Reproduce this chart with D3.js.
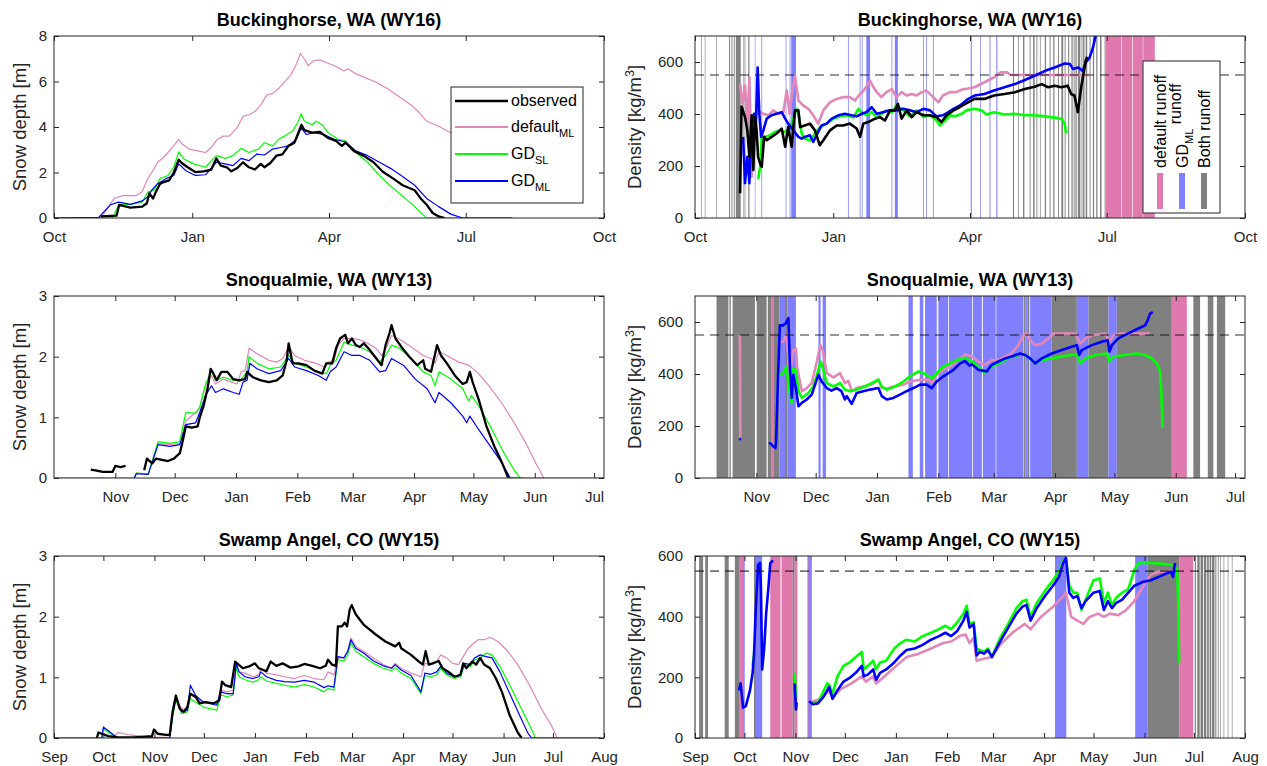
<!DOCTYPE html>
<html>
<head>
<meta charset="utf-8">
<script src="https://cdn.jsdelivr.net/npm/d3@7"></script>
<style>
body { margin: 0; background: #fff; }
svg text { font-family: "Liberation Sans", Arial, Helvetica, sans-serif; }
</style>
</head>
<body>
<svg id="fig" width="1267" height="766"></svg>
<script>
// ---- data: [days since panel start, value]; null value = gap ----
// Buckinghorse, WA (WY16), start 2015-10-01
var bhStart = "2015-10-01", bhEnd = "2016-10-01";
var bhTicks = ["2015-10-01", "2016-01-01", "2016-04-01", "2016-07-01", "2016-10-01"];
var bhDepthObs = [[31,0.07],[41.6,0.1],[43.4,0.58],[50.8,0.46],[58.7,0.5],[61.8,0.65],[63.4,1.08],[66,0.86],[68,1.18],[70.5,1.5],[73,1.58],[76.6,1.65],[79.7,2.0],[83,2.56],[85,2.42],[89,2.23],[94,2.02],[99.5,2.05],[104.7,2.13],[108,2.62],[111,2.3],[115,2.23],[118,2.05],[122,2.2],[125.8,2.45],[129.7,2.23],[133.7,2.13],[137.6,2.38],[140,2.23],[144,2.42],[148,2.74],[152,2.8],[156,3.17],[160,3.31],[163,3.82],[164.7,4.1],[166.6,3.86],[171.8,3.75],[177,3.78],[182,3.53],[187.6,3.39],[191.6,3.17],[194,3.31],[199.5,2.95],[206,2.74],[212.6,2.45],[219,2.02],[225.8,1.73],[232,1.44],[240,1.22],[244,0.86],[248,0.58],[252,0.22],[256,0.07],[260,0]];
var bhDepthDef = [[0,0],[30,0],[32,0.07],[40,0.86],[45.5,0.98],[54.7,0.98],[58.7,1.15],[61.8,1.66],[65,2.0],[69,2.45],[73,2.67],[75.8,2.88],[79.7,3.17],[83,3.46],[85.5,3.24],[90,3.03],[95.5,2.95],[100.8,2.88],[104.7,3.1],[108.7,3.46],[112.6,3.6],[116.6,3.6],[121.8,3.96],[125.8,4.47],[129.7,4.54],[133.7,4.68],[137.6,4.97],[141.6,5.4],[145.5,5.48],[149.5,5.69],[153.4,5.98],[157.4,6.27],[161.3,6.77],[164,7.23],[166.6,6.99],[169.2,6.7],[173,6.92],[177,6.95],[182.4,6.8],[187.6,6.66],[192.9,6.46],[195.5,6.56],[200.8,6.34],[207,6.17],[214,5.98],[221.8,5.69],[229.7,5.33],[237.6,4.97],[242.9,4.64],[248,4.25],[256,4.03],[264,3.75],[275,3.4],[290,3.0],[305,2.6]];
var bhDepthSL = [[0,0],[39,0],[43,0.58],[50.8,0.6],[58.7,0.7],[62.6,1.15],[66.6,1.22],[70.5,1.73],[75.8,1.87],[79.7,2.23],[83,2.91],[86.3,2.6],[92.9,2.38],[100.8,2.23],[108,2.74],[113.9,2.62],[119,2.74],[124.5,3.06],[129.7,2.88],[136,3.03],[140,3.31],[145.5,3.17],[149.5,3.46],[153.4,3.6],[158.7,3.82],[162.6,4.25],[164.5,4.58],[166.6,4.25],[171.8,4.1],[174.5,4.25],[178.4,4.1],[182.4,3.75],[189,3.46],[194,3.39],[200.8,2.88],[208.7,2.45],[216.6,1.87],[224.5,1.37],[232.4,0.94],[240,0.5],[246.8,0.07],[248,0],[305,0]];
var bhDepthML = [[0,0],[29.7,0.03],[37.6,0.58],[43,0.7],[50.8,0.6],[58.7,0.75],[62.6,0.94],[65,1.22],[69,1.51],[74.5,1.73],[79.7,1.87],[83,2.38],[87.6,2.09],[94,1.87],[100.8,1.9],[108,2.45],[113.9,2.38],[119,2.3],[124.5,2.62],[129.7,2.52],[135,2.81],[140,2.77],[145.5,3.03],[150.8,3.1],[156,3.17],[161.3,3.46],[164.5,3.96],[168,3.67],[173,3.75],[179.7,3.67],[186.3,3.46],[194,3.34],[200.8,2.95],[208.7,2.74],[216.6,2.45],[224.5,2.16],[232.4,1.8],[240,1.44],[248,0.86],[256,0.5],[264,0.17],[272,0],[305,0]];
var bhDensObs = [[30,95],[31,429],[33.3,388],[34.8,337],[36.2,235],[37.7,395],[38.8,185],[40,388],[41,337],[42,235],[43.3,210],[44.4,197],[46,312],[47.7,299],[51,312],[54.3,325],[57.7,344],[60,274],[62,350],[64.3,274],[66.5,414],[68.8,414],[70,350],[73,356],[76.5,363],[79.8,337],[83,280],[85.4,299],[89.8,337],[94.3,356],[98.7,356],[103,363],[107.6,344],[109.8,312],[112,363],[115.3,369],[119.8,382],[123,388],[126.4,375],[129.8,414],[133,414],[135,439],[137.5,382],[140.9,414],[144.2,388],[147.5,407],[152,395],[156,395],[160.8,388],[164,369],[167.5,395],[172,414],[176,426],[180.8,442],[186,458],[192.6,458],[199,471],[206,477],[212.9,484],[219.5,496],[226,505],[230.7,515],[235,503],[239.3,509],[243.8,503],[248,509],[250.3,477],[252.5,471],[254.8,407],[257,503],[260,605],[261,620]];
var bhDensDef = [[30,515],[31.7,439],[33.3,509],[34.8,363],[36.2,541],[37.7,159],[39.3,388],[41,401],[43.3,407],[45.5,401],[48.8,395],[52,414],[55.5,401],[58.8,407],[61,490],[63,401],[64.3,471],[66.5,547],[68.8,452],[72,433],[75.4,420],[78.7,395],[82,363],[85.4,414],[89.8,445],[94.3,458],[98.7,465],[103,465],[106.5,452],[109.8,477],[113,496],[116.5,528],[118.7,503],[121,484],[124,465],[127.5,484],[131,496],[134,465],[137.5,484],[141,471],[144,477],[147.5,471],[150.8,484],[154,490],[157.5,471],[162,445],[165,471],[169.7,484],[174,484],[178.6,496],[181,497],[186,503],[192.6,522],[199,541],[203.3,560],[207.8,560],[210,550],[262,550]];
var bhDensSL = [[42,149],[43.7,210],[44.4,312],[46.6,312],[50,318],[53,331],[56.6,337],[60,331],[63,344],[65.4,382],[67.7,420],[68.8,401],[71,325],[73,305],[76.5,299],[80,325],[83.2,350],[87.6,363],[92,382],[96.5,391],[101,395],[105.4,386],[108.7,420],[111,407],[114,395],[117.6,407],[121,388],[124.2,401],[127.5,414],[131,407],[134,433],[138.6,414],[143,391],[147.5,414],[152,388],[156.4,395],[160.8,375],[163,356],[166.4,375],[169.7,395],[173,391],[177.5,401],[181,415],[186,420],[190.6,414],[194,398],[199,407],[206,398],[212.5,401],[219.5,395],[226,395],[233,391],[239.3,386],[243.8,382],[246,363],[247,325]];
var bhDensML = [[32,312],[33.3,134],[34.8,235],[36.2,134],[37.7,363],[39.3,401],[40.4,337],[41.7,579],[42.8,401],[44,312],[45.5,337],[47.7,382],[51,395],[54.3,401],[57.7,407],[60,382],[62,363],[65.4,337],[68.8,312],[71,305],[73,312],[76.5,318],[78.7,293],[82,331],[84.3,356],[87.6,363],[91,382],[95.4,395],[99.8,401],[104,395],[107.6,391],[111,401],[114,407],[117.6,426],[121,401],[125,407],[130,414],[134,414],[138.6,420],[143,414],[147.5,407],[152,420],[156.4,414],[160.8,391],[165,395],[168.6,407],[172,420],[176.4,433],[181,455],[186,471],[192.6,477],[199,490],[206,503],[212.9,515],[219.5,531],[226,547],[233,566],[239.3,579],[246,594],[249.5,592],[251.6,573],[255,579],[258,566],[260,598],[262.6,617],[264.8,655],[267,710]];
// runoff periods: [start day, end day, type] d = default, m = GD_ML, b = both
var bhRunoff = [[4.2,4.6,"b"],[6.5,6.9,"b"],[14.2,14.6,"b"],[22.6,23.2,"b"],[23.9,24.3,"b"],[25,25.4,"b"],[26,26.5,"b"],[27.2,30.4,"b"],[33,33.5,"b"],[35.3,35.8,"b"],
  [32,32.4,"m"],[35.9,36.3,"m"],[39.8,40.2,"m"],[44.2,44.7,"m"],[60.3,60.8,"m"],[63,63.5,"m"],[64,67.2,"m"],[101.8,102.3,"m"],[109.6,110.1,"m"],[111,111.5,"m"],[114,116.5,"m"],[130.8,131.3,"m"],[133,135,"m"],[151.8,152.3,"m"],[153.8,154.3,"m"],[158.4,158.9,"m"],[183.5,184.2,"m"],[189.8,190.3,"m"],[196,196.6,"m"],[200.5,201.2,"m"],
  [211.6,212.3,"b"],[215,215.5,"b"],[218.3,219.2,"b"],[222.7,223.3,"b"],[225,226,"b"],[227.2,227.8,"b"],[229.5,230,"b"],[232.8,233.6,"b"],[236,236.6,"b"],[238.4,239.2,"b"],[241.6,242.2,"b"],[243.8,245,"b"],[246,246.6,"b"],[248.3,249,"b"],[250.5,251.3,"b"],[252,252.6,"b"],[253.2,254,"b"],[254.8,256.4,"b"],[257.2,257.8,"b"],[258.3,259.2,"b"],[260,261,"b"],[262.6,263.2,"b"],[264.8,265.6,"b"],[267,267.8,"b"],[269.5,270.5,"b"],[272.6,273,"b"],
  [273,283.5,"d"],[283.9,291,"d"],[291.4,298,"d"],[298.3,306,"d"]];

// Snoqualmie, WA (WY13), start 2012-10-01
var sqStart = "2012-10-01", sqEnd = "2013-07-06";
var sqTicks = ["2012-11-01", "2012-12-01", "2013-01-01", "2013-02-01", "2013-03-01", "2013-04-01", "2013-05-01", "2013-06-01", "2013-07-01"];
var sqDepthObs = [[18.6,0.14],[21.6,0.12],[24.6,0.1],[29.6,0.1],[31,0.2],[33.6,0.18],[36.2,0.2],[40,null],[45.6,0.13],[47,0.32],[49.6,0.24],[51.6,0.32],[54.6,0.3],[57.6,0.28],[60.6,0.32],[63.6,0.41],[65,0.6],[66.6,0.85],[69.6,0.83],[72.6,0.85],[73.6,0.99],[75.6,1.19],[77.6,1.47],[79.2,1.8],[80.6,1.72],[82.2,1.61],[84.6,1.75],[87.6,1.75],[90.6,1.63],[93.6,1.61],[96.6,1.63],[97.6,1.75],[100.6,1.66],[104.6,1.61],[108.6,1.58],[112.6,1.61],[115.6,1.69],[117.6,1.94],[118.6,2.22],[120.6,1.89],[123.6,1.89],[127.6,1.86],[131.6,1.77],[135.6,1.72],[137.6,1.89],[140.6,1.89],[142.6,2.14],[144.6,2.3],[147.2,2.36],[148.6,2.22],[150.6,2.3],[152.6,2.19],[154.6,2.16],[156.6,2.22],[159.6,2.11],[163.6,1.94],[165.6,1.86],[167.6,2.19],[169.6,2.39],[170.6,2.52],[172.6,2.3],[175.6,2.16],[179.6,2.0],[183.6,1.86],[186.6,1.94],[187.6,1.8],[190.6,1.75],[193.6,2.19],[195.6,2.02],[198.6,1.89],[202.6,1.69],[206.6,1.55],[208.6,1.58],[210.2,1.75],[211.6,1.58],[214.6,1.3],[218.6,0.85],[222.6,0.52],[226.6,0.24],[229.6,0]];
var sqDepthDef = [[40.6,0],[41.6,0.08],[47.6,0.07],[52.6,0.57],[58.6,0.55],[63.6,0.57],[66.6,0.94],[71.6,1.08],[73.6,1.16],[76.6,1.52],[79.6,1.69],[81.6,1.55],[85.6,1.63],[89.6,1.58],[92.6,1.55],[94.6,1.75],[96.6,1.77],[98.6,2.14],[102.6,2.05],[108.6,1.94],[112.6,1.91],[115.6,1.97],[118.6,2.16],[121.6,2.02],[126.6,1.94],[132.6,1.89],[136.6,1.83],[138.6,1.91],[141.6,1.94],[143.6,2.19],[146.6,2.3],[150.6,2.3],[154.6,2.28],[158.6,2.22],[162.6,2.14],[165.6,2.02],[168.2,2.16],[170.6,2.35],[174.6,2.29],[180.6,2.16],[186.6,2.02],[190.6,1.97],[192.6,1.89],[194.6,2.08],[198.6,2.02],[204.6,1.91],[209.6,1.86],[214.6,1.72],[220.6,1.49],[226.6,1.22],[232.6,0.91],[238.6,0.57],[243.6,0.24],[247.6,0]];
var sqDepthSL = [[0,0],[40.6,0],[41.6,0.08],[47.6,0.06],[52.6,0.6],[58.6,0.57],[63.6,0.6],[66.6,1.08],[71.6,1.07],[73.6,1.16],[76.6,1.55],[79.6,1.77],[81.6,1.61],[85.6,1.66],[90.6,1.61],[94.6,1.63],[97.6,1.75],[98.6,2.0],[102.6,1.89],[108.6,1.8],[114.6,1.83],[118.6,2.02],[121.6,1.89],[127.6,1.83],[133.6,1.75],[137.6,1.72],[139.6,1.86],[142.6,1.94],[146.6,2.24],[150.6,2.19],[154.6,2.16],[159.6,2.08],[164.6,1.91],[167.6,2.02],[170.6,2.19],[174.6,2.14],[180.6,1.97],[186.6,1.75],[190.6,1.69],[192.6,1.52],[194.6,1.75],[200.6,1.63],[206.6,1.47],[209.6,1.27],[211,1.36],[214.6,1.19],[220.6,0.85],[226.6,0.46],[232.6,0.13],[235.6,0],[278,0]];
var sqDepthML = [[40.6,0],[41.6,0.07],[47.6,0.06],[52.6,0.55],[58.6,0.52],[63.6,0.55],[66.6,0.88],[71.6,0.91],[73.6,1.08],[76.6,1.36],[79.6,1.52],[81.6,1.41],[85.6,1.47],[90.6,1.41],[93.6,1.38],[95.6,1.58],[97.6,1.61],[99,1.89],[102.6,1.8],[108.6,1.72],[114.6,1.77],[118.6,1.97],[121.6,1.83],[127.6,1.77],[133.6,1.69],[137.6,1.61],[139.6,1.75],[142.6,1.83],[146.6,2.08],[150.6,2.02],[154.6,2.02],[159.6,1.94],[164.6,1.75],[167.6,1.77],[170.6,1.97],[176.6,1.86],[182.6,1.63],[188.6,1.47],[192.6,1.24],[194.6,1.41],[200.6,1.24],[206.6,1.02],[208.6,0.91],[210.2,1.02],[214.6,0.8],[220.6,0.52],[226.6,0.24],[230.6,0],[236,0]];
var sqDensDef = [[22.7,550],[22.9,150],[23,null],[42.9,524],[44.5,524],[46.2,549],[48,397],[49.7,492],[51,498],[51.7,422],[54,334],[56.5,346],[59,365],[61.6,448],[63.3,511],[64.6,492],[66.6,403],[70,387],[73.3,403],[75.8,365],[77.5,374],[79.2,334],[81.7,346],[85,352],[89.3,359],[92.7,378],[94.4,346],[96.9,343],[100.3,352],[105.3,359],[108.7,371],[113.8,378],[118,378],[119.7,365],[122.2,397],[125.6,416],[129,429],[132.3,448],[136.5,475],[140,467],[143.2,448],[146.6,435],[150,454],[153.4,454],[156.7,467],[160,479],[163.4,511],[166,549],[167.6,556],[169.4,530],[171.9,511],[175.3,517],[178.7,537],[181.2,556],[192.2,556],[194.7,517],[197.3,537],[200.6,549],[207.3,556],[209.3,524],[211.5,549],[215.7,556],[230,556]];
var sqDensSL = [[42.9,397],[44.5,403],[46.2,429],[47,378],[48,321],[48.9,289],[49.7,422],[51,416],[52.3,334],[54,308],[57.3,327],[59.8,352],[61.6,397],[63.5,448],[64.8,416],[66.6,365],[70,352],[73.3,365],[75.8,340],[78.4,334],[81.7,340],[85.9,352],[89.3,365],[92.7,378],[94.4,352],[96.9,340],[101.2,352],[105.3,371],[108.7,391],[113,410],[115.5,403],[118,391],[120.2,384],[122.2,403],[125.6,429],[129,441],[132.3,454],[136.5,462],[140,448],[143.2,429],[146.6,403],[150,429],[153.4,441],[156.7,454],[160,467],[163.4,473],[166,476],[169.4,460],[171.9,441],[175.3,454],[180.4,460],[185.4,467],[190.4,473],[193,476],[194.7,441],[197.3,460],[202.3,473],[208.2,479],[209.5,448],[211.5,467],[217.4,473],[223.3,479],[227.5,473],[230.9,460],[233.4,441],[235.1,410],[235.6,346],[236,270],[236.3,194]];
var sqDensML = [[22.4,152],[23.2,147],[23.3,null],[37.5,137],[38.5,130],[39.5,122],[40.6,115],[41,143],[42,397],[42.9,587],[44.5,587],[45.8,594],[47.2,615],[48,422],[48.9,308],[49.7,397],[51,346],[52.3,276],[54,289],[56.5,302],[59,321],[61.2,371],[62.4,397],[64,371],[66.6,346],[69,336],[71.6,346],[74,334],[75.8,302],[76.7,315],[79.2,285],[81.7,327],[85,334],[88.5,340],[92.7,346],[94.4,315],[96.9,302],[100.3,308],[103.6,321],[107,334],[110.4,346],[113.8,359],[117,359],[119.7,346],[122.2,371],[125.6,391],[128,403],[130.6,416],[134,441],[136.5,450],[138.7,432],[140,437],[143.2,416],[147.4,410],[150,435],[153.4,448],[156.7,460],[160,467],[164.3,479],[166.8,473],[169.4,460],[171.9,441],[175.3,460],[180.4,479],[185.4,492],[190.4,505],[193,511],[194.2,473],[195.5,492],[200.6,511],[205.6,524],[208.6,530],[209.5,486],[210.7,511],[214,537],[219,556],[224.1,575],[227.5,587],[228.8,606],[230,632],[231.4,638]];
var sqRunoff = [[10.9,16.9,"b"],[17.4,18.1,"b"],[19,30.3,"b"],[31.2,36.2,"b"],[36.8,38.8,"b"],[38.8,39.6,"d"],[39.6,42.6,"b"],[42.6,45.5,"m"],[45.5,46.7,"b"],[46.7,51,"m"],
  [62.4,63.5,"m"],[64.5,66.2,"m"],[107.9,110.1,"m"],[113.6,115.4,"m"],[116.3,122.2,"m"],[123,128,"m"],[128.4,140,"m"],[140.4,145,"m"],[145.5,152,"m"],[152.3,166,"m"],
  [166.2,167,"b"],[167,168.2,"m"],[168.2,169,"b"],[169.4,180.3,"m"],[180.3,193,"b"],[193,198.9,"m"],[198.9,209,"b"],[209,213.2,"m"],[213.2,241,"b"],[241,248.6,"d"],
  [251.9,255.3,"b"],[259.2,262,"b"],[263.8,268,"b"]];

// Swamp Angel, CO (WY15), start 2014-09-01
var saStart = "2014-09-01", saEnd = "2015-08-01";
var saTicks = ["2014-09-01", "2014-10-01", "2014-11-01", "2014-12-01", "2015-01-01", "2015-02-01", "2015-03-01", "2015-04-01", "2015-05-01", "2015-06-01", "2015-07-01", "2015-08-01"];
var saDepthObs = [[26,0],[27,0.09],[29,0.07],[33,0.03],[39,0.01],[48.7,0.01],[59.5,0.03],[60.7,0.14],[63,0.07],[68,0.05],[70.3,0.05],[72,0.43],[74,0.7],[76.4,0.48],[78.8,0.43],[81,0.51],[82.8,0.73],[86,0.68],[88.4,0.57],[92,0.59],[96.8,0.57],[100.4,0.62],[102,0.93],[104,0.87],[107.6,0.84],[110,1.26],[112.4,1.2],[114.8,1.15],[118.4,1.18],[122,1.23],[124.4,1.15],[129,1.1],[131.6,1.26],[135,1.19],[138.8,1.23],[143.6,1.16],[148.4,1.18],[152,1.22],[156.8,1.19],[161.6,1.15],[165,1.19],[166.4,1.29],[168.8,1.21],[171.2,1.19],[172.4,1.84],[174.8,1.84],[176.5,1.9],[178,1.84],[179.6,2.12],[180.8,2.19],[183.2,2.04],[188,1.87],[195.2,1.71],[201.2,1.59],[207.2,1.51],[209.6,1.57],[210.8,1.48],[216.8,1.37],[221.6,1.26],[224,1.21],[225.7,1.43],[227.6,1.21],[230,1.23],[233.6,1.27],[236,1.15],[239.6,1.09],[243.2,1.01],[246.8,1.04],[248.5,1.23],[250.4,1.15],[254,1.26],[256.4,1.21],[258.8,1.32],[261.2,1.21],[264.8,1.15],[268.4,0.98],[272,0.76],[276.8,0.37],[281.6,0.09],[284,0]];
var saDepthDef = [[35.5,0],[39,0.09],[46.3,0.05],[58.3,0.01],[70.3,0.01],[72,0.37],[74,0.65],[77.6,0.48],[81,0.48],[82.8,0.73],[86,0.65],[90.8,0.59],[99,0.57],[101,0.79],[105,0.76],[108.8,0.79],[110.7,1.21],[112.4,1.09],[116,1.07],[120.8,1.01],[124.4,1.04],[125.6,1.15],[129,1.07],[135,1.04],[140,1.01],[146,0.98],[152,1.03],[158,0.98],[164,0.96],[166.4,1.09],[170,1.04],[172.4,1.32],[176,1.32],[178.4,1.43],[180.3,1.65],[183.2,1.51],[188,1.43],[194,1.32],[200,1.21],[205,1.15],[207.2,1.23],[210.8,1.15],[216.8,1.07],[222.8,1.01],[225.2,1.23],[228.8,1.21],[232.4,1.26],[234.8,1.37],[238.4,1.32],[242,1.23],[245.6,1.21],[248,1.32],[251.6,1.48],[255.2,1.57],[257.6,1.62],[261.2,1.62],[264.8,1.66],[269.6,1.59],[275.6,1.43],[281.6,1.21],[288.8,0.87],[296,0.48],[302,0.21],[305.6,0]];
var saDepthSL = [[29,0],[30,0.15],[36.7,0.03],[39,0],[70.3,0],[72,0.34],[74,0.62],[77.6,0.4],[81,0.43],[82.8,0.65],[86,0.59],[90.8,0.51],[99,0.46],[101,0.71],[105,0.68],[108.8,0.71],[110.7,1.16],[112.4,1.01],[116,0.96],[120.8,0.92],[124.4,0.96],[125.6,1.01],[129,0.94],[135,0.9],[140,0.87],[146,0.84],[152,0.88],[158,0.84],[164,0.76],[166.4,0.82],[170,0.79],[172.4,1.29],[176,1.27],[178.4,1.37],[180.3,1.57],[183.2,1.43],[188,1.34],[194,1.23],[200,1.15],[205,1.11],[207.2,1.16],[210.8,1.07],[216.8,0.98],[222.8,0.73],[225.2,1.03],[228.8,1.01],[232.4,1.04],[234.8,1.15],[238.4,1.04],[243.2,0.98],[246.8,1.01],[249.4,1.21],[253,1.18],[255.4,1.29],[258.8,1.32],[262.4,1.4],[266,1.37],[270.8,1.18],[276.8,0.87],[282.8,0.54],[288.8,0.21],[292.4,0]];
var saDepthML = [[0,0],[29,0],[30,0.18],[36.7,0.04],[39,0],[70.3,0],[72,0.4],[74,0.65],[77.6,0.43],[81,0.46],[82.8,0.87],[86,0.7],[90.8,0.59],[99,0.54],[101,0.76],[105,0.73],[108.8,0.73],[110.7,1.23],[112.4,1.09],[116,1.01],[120.8,0.98],[124.4,1.01],[125.6,1.09],[129,1.01],[135,0.95],[140,0.93],[146,0.92],[152,0.95],[158,0.92],[164,0.83],[166.4,0.86],[170,0.84],[172.4,1.34],[176,1.32],[178.4,1.43],[180.3,1.62],[183.2,1.48],[188,1.4],[194,1.27],[200,1.19],[205,1.15],[207.2,1.21],[210.8,1.12],[216.8,1.03],[222.8,0.76],[225.2,1.07],[228.8,1.05],[232.4,1.09],[234.8,1.18],[238.4,1.07],[243.2,1.01],[246.8,1.04],[249.4,1.23],[253,1.21],[255.4,1.32],[258.8,1.37],[262.4,1.34],[266,1.32],[270.8,1.09],[276.8,0.73],[282.8,0.37],[287.6,0.09],[290,0],[332,0]];
var saDensDef = [[69.2,117],[76.6,129],[81.5,157],[83.5,134],[89,163],[95,180],[101.3,203],[103.8,186],[108.2,203],[110,180],[115,203],[121,232],[128.5,267],[135.9,278],[143.3,295],[150.7,313],[155.6,318],[160.6,336],[164.3,341],[166.7,313],[169.2,330],[171,255],[175.4,261],[180.3,267],[185.3,307],[192.7,347],[200.1,376],[203.8,359],[210,399],[217.4,433],[223.6,468],[225.3,479],[228.5,399],[232.2,387],[235.9,376],[239.6,399],[244.6,410],[248.3,399],[252,410],[257,405],[261.9,422],[266.8,451],[271.7,497],[276.7,537],[281.6,548],[289,548]];
var saDensSL = [[35,238],[36,284],[36.5,null],[60.5,215],[61.3,134],[61.5,null],[69.2,117],[74.6,117],[77.8,152],[80.3,180],[81.5,175],[83.5,146],[86.5,203],[90.2,238],[93.9,249],[97.6,267],[101.3,284],[102.5,226],[105,238],[108.2,255],[110,226],[112.4,249],[116.1,255],[121,295],[124.8,313],[128.5,324],[133.4,318],[138.3,336],[143.3,347],[148.2,359],[152,370],[155.6,359],[159.3,382],[163,410],[165,436],[166.7,376],[169.2,382],[171,295],[172.9,290],[175.4,284],[177.9,295],[180.3,267],[185.3,330],[190.2,376],[195.2,428],[198.9,451],[201.3,456],[203.8,399],[207.5,445],[212.5,485],[217.4,520],[221,548],[223.6,585],[225.3,589],[227.3,502],[229.7,479],[232.2,479],[234.7,422],[237.2,456],[242,520],[245.8,526],[248.3,445],[250.7,479],[253.2,439],[255.7,462],[259.4,479],[263.1,491],[266.8,554],[269.3,577],[276.7,577],[284.1,574],[290.3,571],[292.8,554],[293.5,433],[294,249]];
var saDensML = [[26.7,157],[27.7,180],[29.2,100],[30.9,106],[33.4,157],[35,215],[35.8,272],[37,433],[38.3,571],[39.5,577],[40,491],[40.8,226],[42,295],[43.2,410],[44.5,491],[45.7,577],[47.4,585],[48,null],[60.5,180],[61.3,94],[61.8,117],[62,null],[69.2,121],[71.6,111],[74.6,114],[77.8,134],[80.3,157],[81.5,169],[83.5,129],[86.5,157],[90.2,186],[93.9,198],[97.6,215],[101.3,238],[102.5,203],[105,209],[108.2,226],[110,192],[112.4,215],[116.1,226],[121,249],[124.8,272],[128.5,290],[133.4,295],[138.3,307],[143.3,324],[148.2,336],[152,347],[155.6,336],[159.3,353],[163,387],[165,416],[166.7,364],[169.2,376],[171,272],[172.9,284],[175.4,278],[177.9,290],[180.3,267],[185.3,318],[190.2,364],[195.2,410],[198.9,433],[201.3,439],[203.8,387],[207.5,428],[212.5,468],[217.4,502],[221,531],[223.6,577],[225.3,594],[227.3,479],[229.7,462],[232.2,468],[234.7,428],[237.2,451],[242,479],[245.8,485],[248.3,422],[250.7,451],[253.2,428],[255.7,445],[259.4,456],[263.1,479],[266.8,502],[271.7,514],[276.7,520],[281.6,531],[286.6,543],[289,548],[290.3,531],[291.5,577]];
var saRunoff = [[2.5,4.9,"b"],[6.2,7.9,"b"],[18,20.5,"b"],[24.2,26.7,"b"],[26.7,29.2,"d"],[29.2,30.2,"m"],[35.8,37,"b"],[37,40.8,"m"],[45.7,51.9,"d"],[52.5,59.3,"d"],[59.3,60.5,"b"],[60.5,62.2,"d"],
  [68.4,70.9,"m"],[68.4,68.9,"d"],[70.4,70.9,"d"],[218.6,225.5,"m"],[267.3,274.7,"m"],[274.7,294,"b"],[294,302.6,"d"],
  [303.5,304.2,"b"],[305,306.5,"b"],[307,308.5,"b"],[309,310.5,"b"],[311,312,"b"],[312.5,313.5,"b"],[314,315.5,"b"],[316,316.6,"b"],[317.5,318,"b"],[319,319.4,"b"],[321,321.4,"b"],[323.5,323.9,"b"],[326,326.4,"b"]];

var depthLegend = ["observed", "default", "GD", "GD"];
var depthLegendSub = ["", "ML", "SL", "ML"];
var runoffLegend = ["default runoff", "GD", "Both runoff"];

// ---- layout ----
var W = 550, H = 182;
var colX = [54, 695];
var rowY = [36, 296, 556];
var lineCol = {obs: "#000000", def: "#e386b8", sl: "#00ff00", ml: "#0000ff"};
var runCol = {d: "#df79ae", m: "#8080ff", b: "#808080"};
var axCol = "#262626";

var parse = d3.timeParse("%Y-%m-%d");
var svg = d3.select("#fig");
var clipN = 0;

function at(start, d){ return new Date(start.getTime() + d * 864e5); }

function panel(o){
  var start = parse(o.start);
  var g = svg.append("g").attr("transform", "translate(" + o.x + "," + o.y + ")");
  var x = d3.scaleTime().domain([start, parse(o.end)]).range([0, W]);
  var y = d3.scaleLinear().domain(o.ydom).range([H, 0]);
  var id = "clip" + (clipN++);
  g.append("clipPath").attr("id", id).append("rect").attr("width", W).attr("height", H);
  var plot = g.append("g").attr("clip-path", "url(#" + id + ")");

  if(o.runoff){
    plot.selectAll("rect.run").data(o.runoff).enter().append("rect")
      .attr("x", function(d){ return x(at(start, d[0])); })
      .attr("width", function(d){ return x(at(start, d[1])) - x(at(start, d[0])); })
      .attr("y", 0).attr("height", H)
      .attr("fill", function(d){ return runCol[d[2]]; });
  }

  var line = d3.line()
    .defined(function(d){ return d[1] !== null; })
    .x(function(d){ return x(at(start, d[0])); })
    .y(function(d){ return y(d[1]); });
  o.series.forEach(function(s){
    plot.append("path").datum(s.data)
      .attr("d", line)
      .attr("fill", "none")
      .attr("stroke", lineCol[s.k])
      .attr("stroke-width", s.w)
      .attr("stroke-linejoin", "round");
  });

  if(o.dashed){
    plot.append("line").attr("x1", 0).attr("x2", W)
      .attr("y1", y(550)).attr("y2", y(550))
      .attr("stroke", "#000").attr("stroke-opacity", 0.55)
      .attr("stroke-width", 1.6).attr("stroke-dasharray", "9,6");
  }

  var xt = o.ticks.map(parse);
  g.append("g").attr("transform", "translate(0," + H + ")")
    .call(d3.axisBottom(x).tickValues(xt).tickFormat(d3.timeFormat("%b")).tickSizeInner(-5).tickSizeOuter(0).tickPadding(13));
  g.append("g")
    .call(d3.axisTop(x).tickValues(xt).tickFormat("").tickSizeInner(-5).tickSizeOuter(0));
  g.append("g")
    .call(d3.axisLeft(y).tickValues(o.yticks).tickFormat(d3.format("d")).tickSizeInner(-5).tickSizeOuter(0).tickPadding(o.ypad));
  g.append("g").attr("transform", "translate(" + W + ",0)")
    .call(d3.axisRight(y).tickValues(o.yticks).tickFormat("").tickSizeInner(-5).tickSizeOuter(0));
  g.selectAll(".domain").remove();
  g.selectAll(".tick line").attr("stroke", axCol);
  g.selectAll(".tick text").attr("fill", axCol)
    .style("font-size", "15px").style("font-family", "'Liberation Sans', Arial, sans-serif");
  g.append("rect").attr("width", W).attr("height", H)
    .attr("fill", "none").attr("stroke", axCol).attr("stroke-width", 1);

  g.append("text").attr("x", W / 2).attr("y", -10)
    .attr("text-anchor", "middle").style("font-size", "18px").style("font-weight", "bold")
    .text(o.title);

  var yl = g.append("text")
    .attr("transform", "translate(" + o.ylabX + "," + (H / 2) + ") rotate(-90)")
    .attr("text-anchor", "middle").style("font-size", "18.5px").attr("fill", axCol);
  if(o.dens){
    yl.append("tspan").text("Density [kg/m");
    yl.append("tspan").attr("dy", -7).style("font-size", "12.5px").text("3");
    yl.append("tspan").attr("dy", 7).text("]");
  } else {
    yl.text("Snow depth [m]");
  }
  return g;
}

function depthSeries(obs, def, sl, ml){
  return [{k: "def", data: def, w: 1.2}, {k: "sl", data: sl, w: 1.2},
          {k: "ml", data: ml, w: 1.2}, {k: "obs", data: obs, w: 2.3}];
}
function densSeries(obs, def, sl, ml){
  var s = [{k: "def", data: def, w: 2.6}, {k: "sl", data: sl, w: 2.6}, {k: "ml", data: ml, w: 2.6}];
  if(obs) s.push({k: "obs", data: obs, w: 2.6});
  return s;
}

var dens3 = [0, 200, 400, 600];

panel({x: colX[0], y: rowY[0], start: bhStart, end: bhEnd, ticks: bhTicks, ydom: [0, 8], yticks: [0, 2, 4, 6, 8], ypad: 7, ylabX: -28,
  title: "Buckinghorse, WA (WY16)", series: depthSeries(bhDepthObs, bhDepthDef, bhDepthSL, bhDepthML)});
panel({x: colX[1], y: rowY[0], start: bhStart, end: bhEnd, ticks: bhTicks, ydom: [0, 700], yticks: dens3, ypad: 12, ylabX: -54, dens: true, dashed: true,
  title: "Buckinghorse, WA (WY16)", runoff: bhRunoff, series: densSeries(bhDensObs, bhDensDef, bhDensSL, bhDensML)});
panel({x: colX[0], y: rowY[1], start: sqStart, end: sqEnd, ticks: sqTicks, ydom: [0, 3], yticks: [0, 1, 2, 3], ypad: 7, ylabX: -28,
  title: "Snoqualmie, WA (WY13)", series: depthSeries(sqDepthObs, sqDepthDef, sqDepthSL, sqDepthML)});
panel({x: colX[1], y: rowY[1], start: sqStart, end: sqEnd, ticks: sqTicks, ydom: [0, 700], yticks: dens3, ypad: 12, ylabX: -54, dens: true, dashed: true,
  title: "Snoqualmie, WA (WY13)", runoff: sqRunoff, series: densSeries(null, sqDensDef, sqDensSL, sqDensML)});
panel({x: colX[0], y: rowY[2], start: saStart, end: saEnd, ticks: saTicks, ydom: [0, 3], yticks: [0, 1, 2, 3], ypad: 7, ylabX: -28,
  title: "Swamp Angel, CO (WY15)", series: depthSeries(saDepthObs, saDepthDef, saDepthSL, saDepthML)});
panel({x: colX[1], y: rowY[2], start: saStart, end: saEnd, ticks: saTicks, ydom: [0, 600], yticks: dens3, ypad: 12, ylabX: -54, dens: true, dashed: true,
  title: "Swamp Angel, CO (WY15)", runoff: saRunoff, series: densSeries(null, saDensDef, saDensSL, saDensML)});

// ---- legend, snow depth panel ----
var lg = svg.append("g");
lg.append("rect").attr("x", 451).attr("y", 87).attr("width", 132).attr("height", 116)
  .attr("fill", "#fff").attr("stroke", axCol);
var lgKeys = ["obs", "def", "sl", "ml"];
var lgY = [101, 127, 154, 181];
lgKeys.forEach(function(k, i){
  lg.append("line").attr("x1", 455).attr("x2", 508).attr("y1", lgY[i]).attr("y2", lgY[i])
    .attr("stroke", lineCol[k]).attr("stroke-width", k === "obs" ? 2.5 : 1.8);
  var t = lg.append("text").attr("x", 511).attr("y", lgY[i] + 5).style("font-size", "16px");
  t.append("tspan").text(depthLegend[i]);
  if(depthLegendSub[i]) t.append("tspan").attr("dy", 5).style("font-size", "11px").text(depthLegendSub[i]);
});

// ---- legend, runoff (rotated) ----
var rg = svg.append("g");
rg.append("rect").attr("x", 1143).attr("y", 61).attr("width", 77).attr("height", 152)
  .attr("fill", "#fff").attr("stroke", axCol);
var rgX = [1160, 1182, 1204];
var rgKeys = ["d", "m", "b"];
rgKeys.forEach(function(k, i){
  rg.append("rect").attr("x", rgX[i] - 3).attr("y", 173).attr("width", 6).attr("height", 36)
    .attr("fill", runCol[k]);
  var t = rg.append("text")
    .attr("transform", "translate(" + (rgX[i] + 6) + ",168) rotate(-90)")
    .style("font-size", "16px");
  if(k === "m"){
    t.append("tspan").text(runoffLegend[i]);
    t.append("tspan").attr("dy", 5).style("font-size", "11px").text("ML");
    t.append("tspan").attr("dy", -12).text(" runoff");
  } else {
    t.text(runoffLegend[i]);
  }
});
</script>
</body>
</html>
